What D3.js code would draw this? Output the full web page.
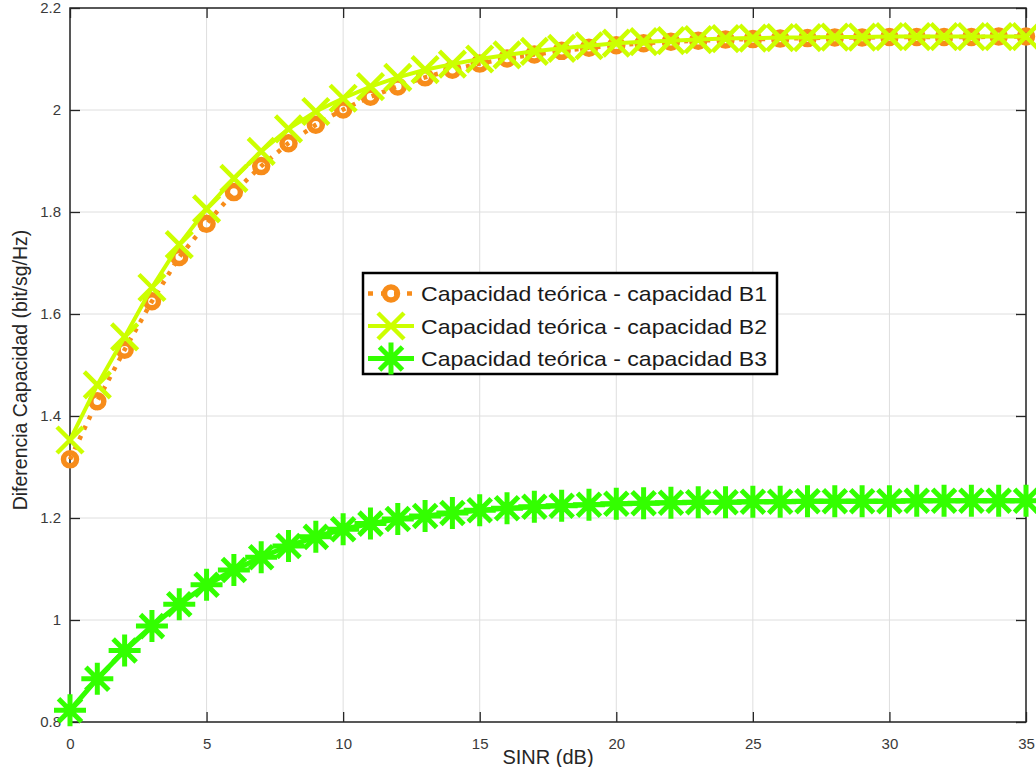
<!DOCTYPE html>
<html>
<head>
<meta charset="utf-8">
<script src="https://cdn.jsdelivr.net/npm/d3@7"></script>
<style>
html,body{margin:0;padding:0;background:#fff;}
svg{display:block;font-family:"Liberation Sans",Arial,sans-serif;}
</style>
</head>
<body>
<svg id="chart" width="1036" height="767"></svg>
<script>
// ---- data ----
const sinr = d3.range(0, 36); // 0..35 dB
const capB1 = [1.315,1.429,1.530,1.625,1.712,1.777,1.839,1.890,1.935,1.971,2.001,2.026,2.046,2.064,2.079,2.091,2.101,2.109,2.116,2.122,2.127,2.131,2.134,2.136,2.138,2.139,2.140,2.141,2.142,2.142,2.143,2.143,2.143,2.143,2.144,2.144];
const capB2 = [1.353,1.461,1.555,1.652,1.736,1.806,1.866,1.919,1.963,1.997,2.023,2.046,2.064,2.079,2.090,2.100,2.108,2.115,2.121,2.126,2.131,2.134,2.136,2.138,2.140,2.141,2.142,2.142,2.143,2.143,2.144,2.144,2.144,2.144,2.144,2.144];
const capB3 = [0.823,0.885,0.940,0.988,1.031,1.069,1.098,1.123,1.145,1.163,1.178,1.189,1.198,1.204,1.210,1.215,1.219,1.222,1.224,1.226,1.228,1.229,1.230,1.231,1.231,1.232,1.232,1.233,1.233,1.233,1.233,1.234,1.234,1.234,1.234,1.234];
const seriesNames = ["Capacidad teórica - capacidad B1","Capacidad teórica - capacidad B2","Capacidad teórica - capacidad B3"];
const xTicks = [0,5,10,15,20,25,30,35];
const yTicks = [0.8,1,1.2,1.4,1.6,1.8,2,2.2];
const xTitle = "SINR (dB)";
const yTitle = "Diferencia Capacidad (bit/sg/Hz)";

// ---- layout ----
const L = 70, R = 1026, T = 8, B = 722;
const svg = d3.select("#chart");
const x = d3.scaleLinear().domain([0,35]).range([L,R]);
const y = d3.scaleLinear().domain([0.8,2.2]).range([B,T]);

const axisColor = "#262626";
const gridColor = "#dedede";

// grid
svg.append("g").selectAll("line").data(xTicks).join("line")
  .attr("x1", d=>x(d)).attr("x2", d=>x(d)).attr("y1", T).attr("y2", B)
  .attr("stroke", gridColor).attr("stroke-width", 1);
svg.append("g").selectAll("line").data(yTicks).join("line")
  .attr("x1", L).attr("x2", R).attr("y1", d=>y(d)).attr("y2", d=>y(d))
  .attr("stroke", gridColor).attr("stroke-width", 1);

// axes
function styleAxis(g){
  g.select(".domain").remove();
  g.selectAll(".tick line").attr("stroke", axisColor).attr("stroke-width", 1.3);
  g.selectAll(".tick text").attr("fill", "#3a3a3a").style("font-size","15px").style("font-family","'Liberation Sans',Arial,sans-serif");
}
svg.append("g").attr("transform",`translate(0,${B})`)
  .call(d3.axisBottom(x).tickValues(xTicks).tickFormat(d=>String(d)).tickSize(-10).tickPadding(16))
  .call(styleAxis);
svg.append("g").attr("transform",`translate(${L},0)`)
  .call(d3.axisLeft(y).tickValues(yTicks).tickFormat(d=>String(d)).tickSize(-10).tickPadding(9))
  .call(styleAxis);
svg.append("g").attr("transform",`translate(0,${T})`)
  .call(d3.axisTop(x).tickValues(xTicks).tickFormat("").tickSize(-10))
  .call(styleAxis);
svg.append("g").attr("transform",`translate(${R},0)`)
  .call(d3.axisRight(y).tickValues(yTicks).tickFormat("").tickSize(-10))
  .call(styleAxis);

svg.append("rect").attr("x",L).attr("y",T).attr("width",R-L).attr("height",B-T)
  .attr("fill","none").attr("stroke",axisColor).attr("stroke-width",1.5);

// axis titles
svg.append("text").attr("x",(L+R)/2).attr("y",764).attr("text-anchor","middle")
  .attr("fill","#262626").style("font-size","20px").text(xTitle);
svg.append("text").attr("transform","translate(27,370) rotate(-90)").attr("text-anchor","middle")
  .attr("fill","#262626").style("font-size","19.5px").text(yTitle);

// series
const colB1 = "#f78c1a", colB2 = "#ccff00", colB3 = "#33ff00";
const line = d3.line().x((d,i)=>x(sinr[i])).y(d=>y(d));

const markX = "M-13,-13L13,13M-13,13L13,-13";
const markStar = "M-16,0H16M0,-16V16M-11.5,-11.5L11.5,11.5M-11.5,11.5L11.5,-11.5";

// B1
svg.append("path").datum(capB1).attr("d",line).attr("fill","none")
  .attr("stroke",colB1).attr("stroke-width",4.5).attr("stroke-dasharray","4 7");
svg.append("g").selectAll("circle").data(capB1).join("circle")
  .attr("cx",(d,i)=>x(sinr[i])).attr("cy",d=>y(d)).attr("r",6.5)
  .attr("fill","none").attr("stroke",colB1).attr("stroke-width",5.5);

// B2
svg.append("path").datum(capB2).attr("d",line).attr("fill","none")
  .attr("stroke",colB2).attr("stroke-width",4);
svg.append("g").selectAll("path").data(capB2).join("path")
  .attr("transform",(d,i)=>`translate(${x(sinr[i])},${y(d)})`).attr("d",markX)
  .attr("fill","none").attr("stroke",colB2).attr("stroke-width",4.5);

// B3
svg.append("path").datum(capB3).attr("d",line).attr("fill","none")
  .attr("stroke",colB3).attr("stroke-width",5);
svg.append("g").selectAll("path").data(capB3).join("path")
  .attr("transform",(d,i)=>`translate(${x(sinr[i])},${y(d)})`).attr("d",markStar)
  .attr("fill","none").attr("stroke",colB3).attr("stroke-width",5);

// legend
const lg = svg.append("g");
lg.append("rect").attr("x",363).attr("y",273).attr("width",414).attr("height",101)
  .attr("fill","#fff").attr("stroke","#000").attr("stroke-width",2.5);
const rowsY = [293.5, 326, 358.5];
const symX = 391;
// B1 symbol
lg.append("line").attr("x1",367).attr("x2",415).attr("y1",rowsY[0]).attr("y2",rowsY[0])
  .attr("stroke",colB1).attr("stroke-width",4.5).attr("stroke-dasharray","5 8").attr("stroke-dashoffset",-1);
lg.append("circle").attr("cx",symX).attr("cy",rowsY[0]).attr("r",6.5)
  .attr("fill","none").attr("stroke",colB1).attr("stroke-width",5.5);
// B2 symbol
lg.append("line").attr("x1",368).attr("x2",414).attr("y1",rowsY[1]).attr("y2",rowsY[1])
  .attr("stroke",colB2).attr("stroke-width",4);
lg.append("path").attr("transform",`translate(${symX},${rowsY[1]})`).attr("d",markX)
  .attr("fill","none").attr("stroke",colB2).attr("stroke-width",4.5);
// B3 symbol
lg.append("line").attr("x1",368).attr("x2",414).attr("y1",rowsY[2]).attr("y2",rowsY[2])
  .attr("stroke",colB3).attr("stroke-width",5);
lg.append("path").attr("transform",`translate(${symX},${rowsY[2]})`).attr("d",markStar)
  .attr("fill","none").attr("stroke",colB3).attr("stroke-width",5);
lg.selectAll("text.lt").data(seriesNames).join("text").attr("class","lt")
  .attr("x",421).attr("y",(d,i)=>rowsY[i]+7.5)
  .attr("fill","#1a1a1a").style("font-size","21px")
  .attr("textLength",346).attr("lengthAdjust","spacingAndGlyphs")
  .text(d=>d);
</script>
</body>
</html>
